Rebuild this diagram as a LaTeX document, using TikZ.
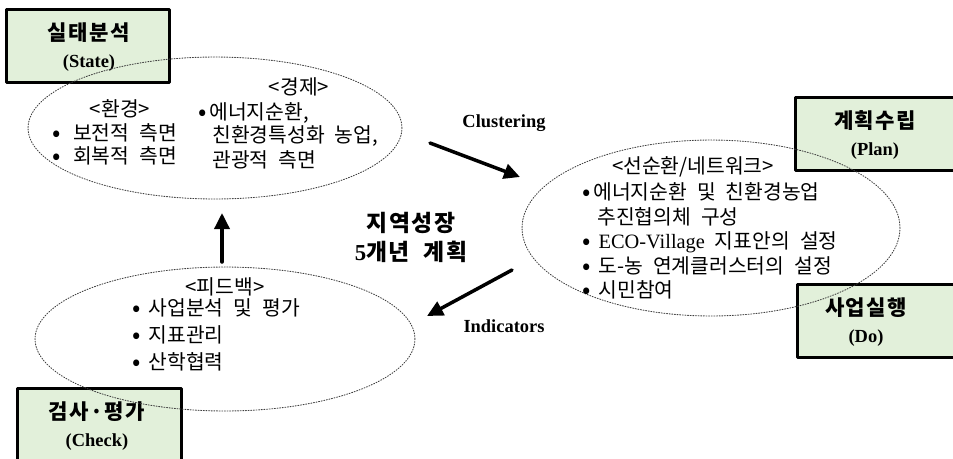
\documentclass[tikz,border=0pt]{standalone}
\usepackage{fontspec}
\setmainfont{Liberation Serif}
\newfontfamily\kr[WordSpace=2.2]{Noto Sans CJK KR}
\newfontfamily\krhead[LetterSpace=7,WordSpace=2]{Noto Sans CJK KR}
\usepackage{xcolor}
\usepackage{tikz}
\usetikzlibrary{shapes.geometric, arrows.meta}
\definecolor{boxgreen}{RGB}{226,240,218}
\newcommand{\blt}{{\fontsize{14}{14}\selectfont\raisebox{-0.6pt}{•}}}
\tikzstyle{arrow} = [line width=0.07cm,-{Triangle[length=0.32cm,width=0.3cm]}]
\tikzstyle{titlebox} = [draw, line width=0.06cm, fill=boxgreen, inner sep=0pt, minimum height=1.46cm]
\tikzstyle{ring} = [draw=black!75, ellipse, line width=0.5pt, dash pattern=on 0.6pt off 0.9pt, inner sep=0pt]
\tikzstyle{txt} = [font=\kr\fontsize{11.6}{13}\selectfont, inner sep=0pt]
\tikzstyle{txtl} = [txt, anchor=west]
\tikzstyle{title} = [font=\bfseries\fontsize{10.5}{15.5}\selectfont, align=center, inner sep=0pt]
\tikzstyle{lbl} = [font=\bfseries\fontsize{10.5}{12}\selectfont, inner sep=0pt]
\tikzstyle{goal} = [font=\krhead\bfseries\fontsize{13}{15}\selectfont, inner sep=0pt]

\begin{document}
\begin{tikzpicture}[line cap=round,line join=round,x=0.02cm,y=-0.02cm]
    \path[use as bounding box, clip] (0,0) rectangle (953,458);
    % the four PDCA boxes
    \node[titlebox, minimum width=3.28cm] (statebox) at (88,45.5) {};
    \node[titlebox, minimum width=3.2cm] (planbox) at (875,133.5) {};
    \node[titlebox, minimum width=3.2cm] (dobox) at (877,320.5) {};
    \node[titlebox, minimum width=3.3cm, minimum height=1.64cm] (checkbox) at (99.5,429) {};
    \node[title] (statetxt) at (89,47) {{\krhead\fontsize{12}{15.5}\selectfont 실태분석}\\(State)};
    \node[title] (plantxt) at (875,135) {{\krhead\fontsize{12}{15.5}\selectfont 계획수립}\\(Plan)};
    \node[title] (dotxt) at (866,322) {{\krhead\fontsize{12}{15.5}\selectfont 사업실행}\\(Do)};
    \node[title] (checktxt) at (97,426) {{\krhead\fontsize{12}{15.5}\selectfont 검사·평가}\\(Check)};
    % dotted rings
    \node[ring, minimum width=7.48cm, minimum height=2.84cm] (statering) at (215,128) {};
    \node[ring, minimum width=7.56cm, minimum height=3.52cm] (planring) at (711,228) {};
    \node[ring, minimum width=7.6cm, minimum height=2.88cm] (fbring) at (225,339) {};
    % state ring
    \node[txt] (envhead) at (120,109) {<환경>};
    \node[txtl] (env1) at (52,133) {\blt\hspace{7pt}보전적 측면};
    \node[txtl] (env2) at (52,156) {\blt\hspace{7pt}회복적 측면};
    \node[txt] (ecohead) at (299,87) {<경제>};
    \node[txtl] (eco1) at (198,113) {\blt\hspace{1.5pt}에너지순환,};
    \node[txtl] (eco2) at (212,136) {친환경특성화 농업,};
    \node[txtl] (eco3) at (212,160) {관광적 측면};
    % plan ring
    \node[txt] (planhead) at (693,167) {<선순환/네트워크>};
    \node[txtl] (plan1) at (582,192) {\blt\hspace{1.5pt}에너지순환 및 친환경농업};
    \node[txtl] (plan2) at (597,217) {추진협의체 구성};
    \node[txtl] (plan3) at (582,242) {\blt\hspace{4.5pt}{\rmfamily ECO-Village} 지표안의 설정};
    \node[txtl] (plan4) at (582,266) {\blt\hspace{4.5pt}도-농 연계클러스터의 설정};
    \node[txtl] (plan5) at (582,290) {\blt\hspace{4.5pt}시민참여};
    % feedback ring
    \node[txt] (fbhead) at (225,287) {<피드백>};
    \node[txtl] (fb1) at (132,308) {\blt\hspace{4.5pt}사업분석 및 평가};
    \node[txtl] (fb2) at (132,335) {\blt\hspace{4.5pt}지표관리};
    \node[txtl] (fb3) at (132,362) {\blt\hspace{4.5pt}산학협력};
    % centre
    \node[goal] (goal1) at (411,223) {지역성장};
    \node[goal] (goal2) at (411,252) {{\rmfamily 5}개년 계획};
    % arrows
    \coordinate (clusfrom) at (430,143);
    \coordinate (clusto) at (520,177);
    \coordinate (indfrom) at (512,270);
    \coordinate (indto) at (427,316);
    \coordinate (upfrom) at (222,262);
    \coordinate (upto) at (222,213);
    \draw[arrow] (clusfrom) -- (clusto);
    \draw[arrow] (indfrom) -- (indto);
    \draw[arrow] (upfrom) -- (upto);
    \node[lbl] (clus) at (504,123) {Clustering};
    \node[lbl] (indic) at (504,326) {Indicators};
\end{tikzpicture}
\end{document}
